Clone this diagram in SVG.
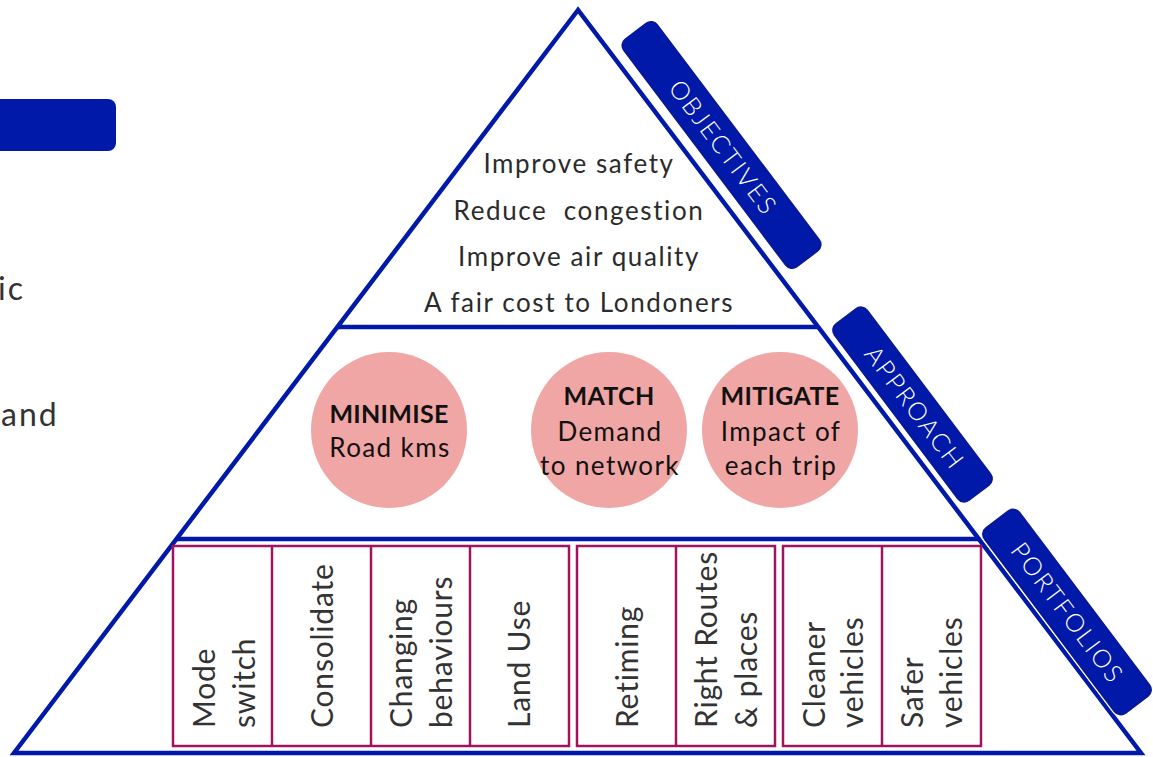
<svg xmlns="http://www.w3.org/2000/svg" width="1153" height="757" viewBox="0 0 1153 757">
<style>
.tri{fill:none;stroke:#0019A8;stroke-width:4.5;stroke-linejoin:miter}
.div{stroke:#0019A8;stroke-width:4.5}
.tab{fill:#0019A8;stroke:#0A1890;stroke-width:1.5}
.tabbg{fill:#fff}
.tabtxt{font-family:Lato,"Open Sans",sans-serif;font-size:25px;letter-spacing:2px;fill:#fff;text-anchor:middle;font-weight:300}
.obj{font-family:Lato,"Open Sans",sans-serif;font-size:26px;letter-spacing:1.6px;fill:#2b2b2b;text-anchor:middle}
.circ{fill:#F0A6A4}
.ctxt{font-family:Lato,"Open Sans",sans-serif;font-size:26px;letter-spacing:1.4px;fill:#111;text-anchor:middle}
.b{font-weight:bold;font-size:25px;letter-spacing:0.3px}
.box{fill:none;stroke:#A0145F;stroke-width:2.5}
.ptxt{font-family:Lato,"Open Sans",sans-serif;font-size:30px;letter-spacing:0.8px;fill:#333}
.left{font-family:Lato,"Open Sans",sans-serif;font-size:32px;letter-spacing:2px;fill:#333}
</style>
<rect width="1153" height="757" fill="#fff"/>

<g id="left-fragment">
<rect x="-12" y="99" width="128" height="52" rx="8" fill="#0019A8"/>
<text class="left" x="-2" y="300">ic</text>
<text class="left" x="1" y="426">and</text>
</g>

<g id="pyramid">
<polygon class="tri" points="578,10 14,753 1141,753"/>
<line class="div" x1="337" y1="327" x2="818" y2="327"/>
<line class="div" x1="176" y1="539" x2="979" y2="539"/>
</g>

<g id="objectives">
<text class="obj" x="579" y="173">Improve safety</text>
<text class="obj" x="579" y="220" xml:space="preserve">Reduce  congestion</text>
<text class="obj" x="579" y="266">Improve air quality</text>
<text class="obj" x="579" y="312">A fair cost to Londoners</text>
</g>

<g id="tab-objectives" transform="translate(721.5,145) rotate(53)">
<rect class="tabbg" x="-144.5" y="-23" width="289" height="46" rx="10"/>
<rect class="tab" x="-142.5" y="-21" width="285" height="42" rx="8"/>
<text class="tabtxt" x="3" y="9">OBJECTIVES</text>
</g>
<g id="tab-approach" transform="translate(912.5,404.5) rotate(53)">
<rect class="tabbg" x="-112.5" y="-22.5" width="225" height="45" rx="10"/>
<rect class="tab" x="-110.5" y="-20.5" width="221" height="41" rx="8"/>
<text class="tabtxt" x="4" y="9">APPROACH</text>
</g>
<g id="tab-portfolios" transform="translate(1067,612) rotate(53)">
<rect class="tabbg" x="-118" y="-24" width="236" height="48" rx="10"/>
<rect class="tab" x="-116" y="-22" width="232" height="44" rx="8"/>
<text class="tabtxt" x="1" y="9">PORTFOLIOS</text>
</g>

<g id="minimise">
<circle class="circ" cx="389" cy="430" r="78"/>
<text class="ctxt b" x="389" y="423">MINIMISE</text>
<text class="ctxt" x="390" y="457">Road kms</text>
</g>
<g id="match">
<circle class="circ" cx="609" cy="430" r="78"/>
<text class="ctxt b" x="609" y="405">MATCH</text>
<text class="ctxt" x="610" y="441">Demand</text>
<text class="ctxt" x="610" y="475">to network</text>
</g>
<g id="mitigate">
<circle class="circ" cx="780" cy="430" r="78"/>
<text class="ctxt b" x="780" y="405">MITIGATE</text>
<text class="ctxt" x="781" y="441">Impact of</text>
<text class="ctxt" x="781" y="475">each trip</text>
</g>

<g id="portfolio-group-1">
<rect class="box" x="173" y="546" width="396" height="200"/>
<line class="box" x1="272" y1="546" x2="272" y2="746"/>
<line class="box" x1="371" y1="546" x2="371" y2="746"/>
<line class="box" x1="470" y1="546" x2="470" y2="746"/>
</g>
<g id="portfolio-group-2">
<rect class="box" x="577" y="546" width="198" height="200"/>
<line class="box" x1="676" y1="546" x2="676" y2="746"/>
</g>
<g id="portfolio-group-3">
<rect class="box" x="783" y="546" width="198" height="200"/>
<line class="box" x1="882" y1="546" x2="882" y2="746"/>
</g>

<g id="mode-switch">
<text class="ptxt" transform="translate(215,728) rotate(-90)">Mode</text>
<text class="ptxt" transform="translate(255,728) rotate(-90)">switch</text>
</g>
<g id="consolidate">
<text class="ptxt" transform="translate(333,728) rotate(-90)">Consolidate</text>
</g>
<g id="changing-behaviours">
<text class="ptxt" transform="translate(412,728) rotate(-90)">Changing</text>
<text class="ptxt" transform="translate(452,728) rotate(-90)">behaviours</text>
</g>
<g id="land-use">
<text class="ptxt" transform="translate(530,728) rotate(-90)">Land Use</text>
</g>
<g id="retiming">
<text class="ptxt" transform="translate(638,728) rotate(-90)">Retiming</text>
</g>
<g id="right-routes">
<text class="ptxt" transform="translate(717,728) rotate(-90)">Right Routes</text>
<text class="ptxt" transform="translate(757,728) rotate(-90)">&amp; places</text>
</g>
<g id="cleaner-vehicles">
<text class="ptxt" transform="translate(825,728) rotate(-90)">Cleaner</text>
<text class="ptxt" transform="translate(863,728) rotate(-90)">vehicles</text>
</g>
<g id="safer-vehicles">
<text class="ptxt" transform="translate(923,728) rotate(-90)">Safer</text>
<text class="ptxt" transform="translate(962,728) rotate(-90)">vehicles</text>
</g>
</svg>
